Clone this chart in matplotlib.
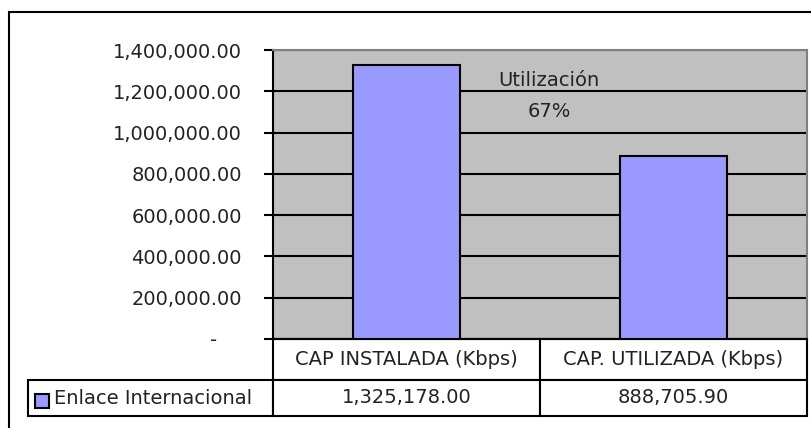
import matplotlib.pyplot as plt
from matplotlib.patches import Rectangle
from matplotlib.ticker import FuncFormatter

# values
categories = ['CAP INSTALADA (Kbps)', 'CAP. UTILIZADA (Kbps)']
capacity = [1325178.00, 888705.90]
series_name = 'Enlace Internacional'
y_ticks = [0, 200000, 400000, 600000, 800000, 1000000, 1200000, 1400000]

bar_color = '#9999FF'
plot_bg = '#C0C0C0'
W, H = 812, 428
FS = 14

plt.rcParams['font.family'] = 'DejaVu Sans'
plt.rcParams['font.size'] = FS

fig = plt.figure(figsize=(W / 100, H / 100), dpi=100)

# plot area in pixel coords: x 273..807, y 50..339
left, right, top, bottom = 273, 807, 50, 339
ax = fig.add_axes([left / W, 1 - bottom / H, (right - left) / W, (bottom - top) / H])
ax.set_facecolor(plot_bg)

x = list(range(len(categories)))
ax.bar(x, capacity, width=0.4, color=bar_color, edgecolor='black', linewidth=1.5, zorder=3)
ax.set_xlim(-0.5, len(categories) - 0.5)
ax.set_ylim(0, y_ticks[-1])
ax.set_yticks(y_ticks)
ax.yaxis.set_major_formatter(FuncFormatter(lambda v, p: '-    ' if v == 0 else f'{v:,.2f}'))
ax.grid(axis='y', color='black', linewidth=1.5, zorder=1)
ax.set_axisbelow(True)
ax.tick_params(axis='y', direction='out', length=6.5, width=1.5, pad=16, colors='black', labelcolor='#222222')
ax.tick_params(axis='x', length=0, labelbottom=False)

ax.spines['left'].set_linewidth(1.5)
ax.spines['left'].set_color('black')
ax.spines['bottom'].set_linewidth(1.5)
for s in ('top', 'right'):
    ax.spines[s].set_color('#808080')
    ax.spines[s].set_linewidth(1.5)

# utilisation note
util = capacity[1] / capacity[0]
ax.text(0.535, 1250000, 'Utilización', ha='center', va='center', color='#222222')
ax.text(0.535, 1100000, f'{util:.0%}', ha='center', va='center', color='#222222')

# data table under the plot
row_h = (416 - bottom) / (bottom - top)
label_w = (left - 28) / (right - left)
tbl = ax.table(cellText=[[''] + [f'{v:,.2f}' for v in capacity]],
               colLabels=[''] + categories,
               cellLoc='center',
               bbox=[-label_w, -row_h, 1 + label_w, row_h])
tbl.auto_set_font_size(False)
col_w = [left - 28, (right - left) / 2, (right - left) / 2]
for (r, c), cell in tbl.get_celld().items():
    cell.set_width(col_w[c])
    cell.set_linewidth(1.5)
    cell.set_edgecolor('black')
    cell.get_text().set_fontsize(FS)
    cell.get_text().set_color('#222222')
tbl[0, 0].visible_edges = ''
# header row is a bit taller than the value row
for c in range(3):
    tbl[0, c].set_height(41)
    tbl[1, c].set_height(36)

# legend key inside the row label cell
fig.patches.append(Rectangle((35 / W, 1 - 408 / H), 14 / W, 14 / H, transform=fig.transFigure,
                             facecolor=bar_color, edgecolor='black', linewidth=1.5))
fig.text(54 / W, 1 - 398 / H, series_name, ha='left', va='center', color='#222222')

# outer chart frame (right and bottom edges are cut off in the original)
fig.patches.append(Rectangle((9 / W, -0.2), 1.2, 1.2 - 12 / H, transform=fig.transFigure,
                             fill=False, edgecolor='black', linewidth=1.5))

fig.savefig('out.png', dpi=100)
